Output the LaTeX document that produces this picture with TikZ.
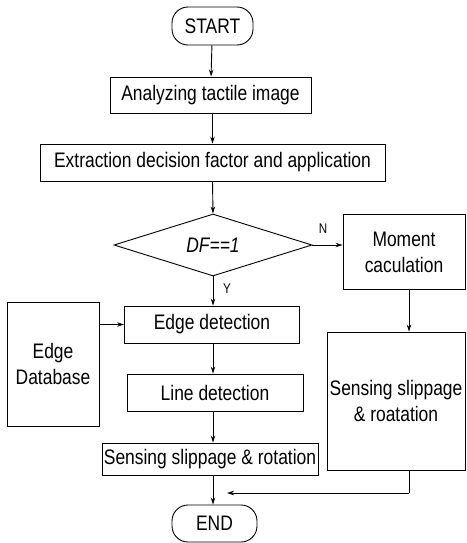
\documentclass[tikz,border=0pt]{standalone}
\usepackage{fontspec}
\setmainfont{Liberation Sans}[FakeStretch=0.83]
\usetikzlibrary{arrows.meta,shapes.geometric,calc}

\begin{document}
\begin{tikzpicture}[x=1pt,y=-1pt,
  every node/.style={font=\fontsize{21}{26}\selectfont},
  box/.style={draw,line width=0.9pt,inner sep=0pt,align=center},
  term/.style={box,rounded corners=16pt},
  decision/.style={draw,line width=0.9pt,diamond,inner sep=0pt,aspect=3.2},
  flow/.style={line width=0.9pt,-{Stealth[length=7pt,width=4.5pt]}},
  plainline/.style={line width=0.9pt},
  tag/.style={font=\fontsize{14}{16}\selectfont}]

\useasboundingbox (0,0) rectangle (466,543);

% terminals
\node[term,minimum width=81pt,minimum height=38pt] (start) at (212.5,26) {START};
\node[term,minimum width=85pt,minimum height=37pt] (end) at (214.5,523.5) {END};

% main column
\node[box,minimum width=201pt,minimum height=36pt] (analyze) at (210.5,95) {Analyzing tactile image};
\node[box,minimum width=345pt,minimum height=37pt] (extract) at (212.5,162.5) {Extraction decision factor and application};
\node[decision,minimum width=198pt,minimum height=62pt] (dec) at (213,245) {\itshape DF==1};
\node[box,minimum width=175pt,minimum height=37pt] (edge) at (212,324.5) {Edge detection};
\node[box,minimum width=176pt,minimum height=37pt] (line) at (215,392.5) {Line detection};
\node[box,minimum width=216pt,minimum height=32pt] (sense) at (210,459) {Sensing slippage \& rotation};

% side boxes
\node[box,minimum width=92pt,minimum height=124pt] (db) at (53,364) {Edge\\Database};
\node[box,minimum width=122pt,minimum height=75pt] (moment) at (404,252) {Moment\\caculation};
\node[box,minimum width=138pt,minimum height=138pt] (right) at (396,401) {Sensing slippage\\\& roatation};

% branch labels
\node[tag] (nlab) at (323,229) {N};
\node[tag] (ylab) at (227,289) {Y};

% helper points for the right-hand return path
\coordinate (rx) at (409,0);
\coordinate (bend) at (409,493);
\coordinate (meet) at (227,493);

% connectors
\draw[flow] (start) -- (analyze);
\draw[flow] (analyze.south -| start) -- (extract.north -| start);
\draw[flow] (extract.south -| start) -- (dec.north);
\draw[flow] (dec.east) -- (dec.east -| moment.west);
\draw[flow] (dec.south) -- (edge.north -| dec.south);
\draw[flow] (edge.west -| db.east) -- (edge.west);
\draw[flow] (edge.south -| dec.south) -- (line.north -| dec.south);
\draw[flow] (line.south -| dec.south) -- (sense.north -| dec.south);
\draw[flow] (sense.south -| dec.south) -- (end.north -| dec.south);
\draw[flow] (rx |- moment.south) -- (rx |- right.north);
\draw[plainline] (rx |- right.south) -- (bend);
\draw[flow] (bend) -- (meet);

\end{tikzpicture}
\end{document}
